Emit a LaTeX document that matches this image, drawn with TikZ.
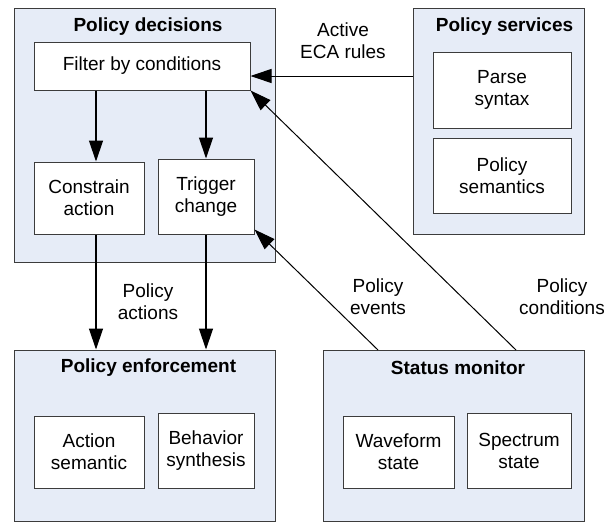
\documentclass[tikz,border=0pt]{standalone}
\usepackage{fontspec}
\setmainfont{Liberation Sans}
\usetikzlibrary{arrows.meta}
\definecolor{panelfill}{HTML}{E6ECF7}
\definecolor{edgegray}{HTML}{3C3C3C}
\begin{document}
\begin{tikzpicture}[x=1pt,y=-1pt,
  every node/.style={font=\fontsize{19}{22}\selectfont, inner sep=0pt, align=center},
  panel/.style={draw=edgegray, line width=1pt, fill=panelfill},
  item/.style={draw=edgegray, line width=1pt, fill=white},
  heading/.style={font=\fontsize{19}{22}\selectfont\bfseries},
  flow/.style={line width=1.3pt, -{Triangle[length=21pt,width=14pt]}},
  feed/.style={line width=1pt, -{Triangle[length=21pt,width=14pt]}}]
\useasboundingbox (0,0) rectangle (604,522);

% outer panels
\node[panel, minimum width=261, minimum height=254] (dec) at (144.5,135) {};
\node[panel, minimum width=171, minimum height=226] (svc) at (498.5,121) {};
\node[panel, minimum width=261, minimum height=171] (enf) at (144.5,435.5) {};
\node[panel, minimum width=261, minimum height=171] (mon) at (453.5,435.5) {};

% panel headings
\node[heading] (decT) at (148,27) {Policy decisions};
\node[heading] (svcT) at (504.5,27) {Policy services};
\node[heading] (enfT) at (148.5,368) {Policy enforcement};
\node[heading] (monT) at (458,368) {Status monitor};

% inner boxes
\node[item, minimum width=216, minimum height=48] (filter) at (142,66) {Filter by conditions};
\node[item, minimum width=110, minimum height=72] (constrain) at (89,198) {Constrain\\action};
\node[item, minimum width=96, minimum height=75] (trigger) at (206,196.5) {Trigger\\change};
\node[item, minimum width=138, minimum height=76] (parse) at (502,90) {Parse\\syntax};
\node[item, minimum width=138, minimum height=75] (sem) at (502,175.5) {Policy\\semantics};
\node[item, minimum width=110, minimum height=72] (actsem) at (89,452) {Action\\semantic};
\node[item, minimum width=96, minimum height=75] (behav) at (206,450.5) {Behavior\\synthesis};
\node[item, minimum width=111, minimum height=72] (wave) at (398.5,452) {Waveform\\state};
\node[item, minimum width=104, minimum height=75] (spec) at (519,450.5) {Spectrum\\state};

% connector anchors
\coordinate (colA) at (96,0);
\coordinate (ecaRow) at (0,76);
\coordinate (evtFoot) at (378,350);
\coordinate (condFoot) at (516,350);

% connectors
\draw[flow] (filter.south -| colA) -- (constrain.north -| colA);
\draw[flow] (filter.south -| trigger) -- (trigger.north);
\draw[flow] (constrain.south -| colA) -- (enf.north -| colA);
\draw[flow] (trigger.south) -- (enf.north -| trigger);
\draw[feed] (svc.west |- ecaRow) -- (filter.east |- ecaRow);
\draw[feed] (condFoot) -- (filter.south east);
\draw[feed] (evtFoot) -- ([yshift=5pt]trigger.south east);

% connector labels
\node (lblECA) at (343,41) {Active\\ECA rules};
\node (lblAct) at (148,302) {Policy\\actions};
\node (lblEvt) at (378,297) {Policy\\events};
\node (lblCond) at (562,297) {Policy\\conditions};
\end{tikzpicture}
\end{document}
